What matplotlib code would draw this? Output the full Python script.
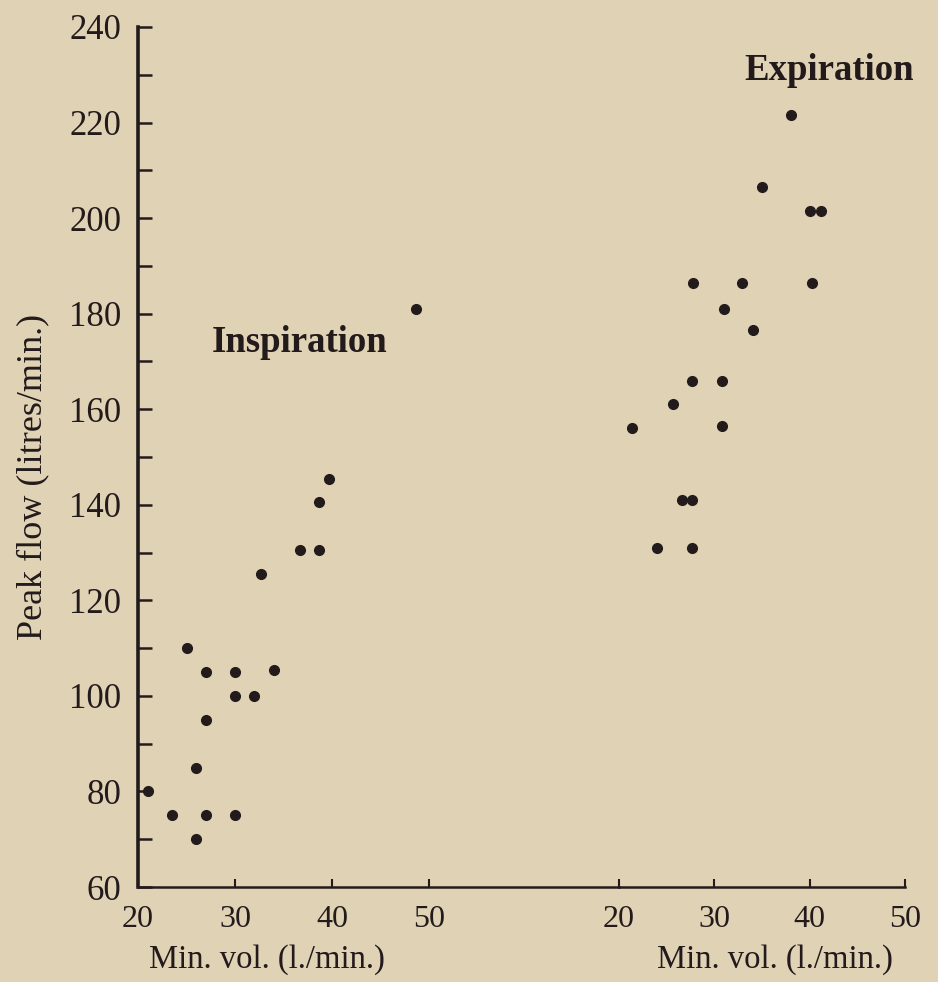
import matplotlib
matplotlib.use("Agg")
import matplotlib.pyplot as plt
from matplotlib.ticker import MultipleLocator

# Inspiration (left panel)
insp_minvol = [21, 23.5, 25, 26, 26, 27, 27, 27, 30, 30, 30, 32, 34,
               32.7, 36.7, 38.7, 38.7, 39.7, 48.7]
insp_peak = [80, 75, 110, 85, 70, 105, 95, 75, 105, 100, 75, 100, 105.5,
             125.5, 130.5, 130.5, 140.5, 145.5, 181]

# Expiration (right panel)
exp_minvol = [38, 35, 40, 41.2, 27.8, 32.9, 40.2, 31, 34.1, 27.7, 30.8,
              25.7, 21.4, 30.8, 26.6, 27.7, 24, 27.7]
exp_peak = [221.5, 206.5, 201.5, 201.5, 186.5, 186.5, 186.5, 181, 176.5,
            166, 166, 161, 156, 156.5, 141, 141, 131, 131]

x_ticks = [20, 30, 40, 50]
y_ticks = [60, 80, 100, 120, 140, 160, 180, 200, 220, 240]

BG = "#e0d3b5"
INK = "#231a1b"
SERIF = ["Liberation Serif", "DejaVu Serif"]

fig = plt.figure(figsize=(9.38, 9.82), dpi=100)
fig.patch.set_facecolor(BG)

W, H = 938, 982
x0, xsplit, x1 = 138, 619, 905
ytop, ybot = 27, 887

axL = fig.add_axes([x0 / W, (H - ybot) / H, (xsplit - x0) / W, (ybot - ytop) / H])
axR = fig.add_axes([xsplit / W, (H - ybot) / H, (x1 - xsplit) / W, (ybot - ytop) / H],
                   sharey=axL)

for ax in (axL, axR):
    ax.set_facecolor("none")
    for s in ("top", "right"):
        ax.spines[s].set_visible(False)
    ax.spines["bottom"].set_linewidth(1.8)
    ax.spines["bottom"].set_color(INK)
    ax.tick_params(axis="x", direction="in", length=6, width=1.5, color=INK,
                   pad=13, labelsize=23, labelcolor=INK)
    ax.set_xticks(x_ticks)
    ax.set_xticklabels([str(v) for v in x_ticks], fontfamily=SERIF)

axR.spines["left"].set_visible(False)
axR.tick_params(axis="y", left=False, labelleft=False, which="both")

axL.spines["left"].set_linewidth(2.6)
axL.spines["left"].set_color(INK)
axL.set_ylim(60, 240)
axL.set_xlim(20, 20 + (xsplit - x0) / 9.7)
axR.set_xlim(20, 50)
axL.set_yticks(y_ticks)
axL.set_yticklabels([str(v) for v in y_ticks], fontfamily=SERIF)
axL.yaxis.set_minor_locator(MultipleLocator(10))
axL.tick_params(axis="y", which="major", direction="in", length=10, width=1.8,
                color=INK, pad=12, labelsize=25, labelcolor=INK)
axL.tick_params(axis="y", which="minor", direction="in", length=10, width=1.8,
                color=INK)

axL.plot(insp_minvol, insp_peak, "o", color=INK, markersize=7,
         linestyle="none", clip_on=False)
axR.plot(exp_minvol, exp_peak, "o", color=INK, markersize=7,
         linestyle="none", clip_on=False)

axL.text(36.7, 174, "Inspiration", ha="center", va="center", fontsize=26.5,
         fontweight="bold", fontfamily=SERIF, color=INK)
axR.text(42.0, 231, "Expiration", ha="center", va="center", fontsize=26.5,
         fontweight="bold", fontfamily=SERIF, color=INK)

fig.text(33 / W, 1 - 477 / H, "Peak flow (litres/min.)", rotation=90,
         ha="center", va="center", fontsize=26, fontfamily=SERIF, color=INK)
fig.text(267 / W, 1 - 960 / H, "Min. vol. (l./min.)", ha="center", va="center",
         fontsize=23.5, fontfamily=SERIF, color=INK)
fig.text(775 / W, 1 - 960 / H, "Min. vol. (l./min.)", ha="center", va="center",
         fontsize=23.5, fontfamily=SERIF, color=INK)

fig.savefig("out.png", dpi=100, facecolor=BG)
